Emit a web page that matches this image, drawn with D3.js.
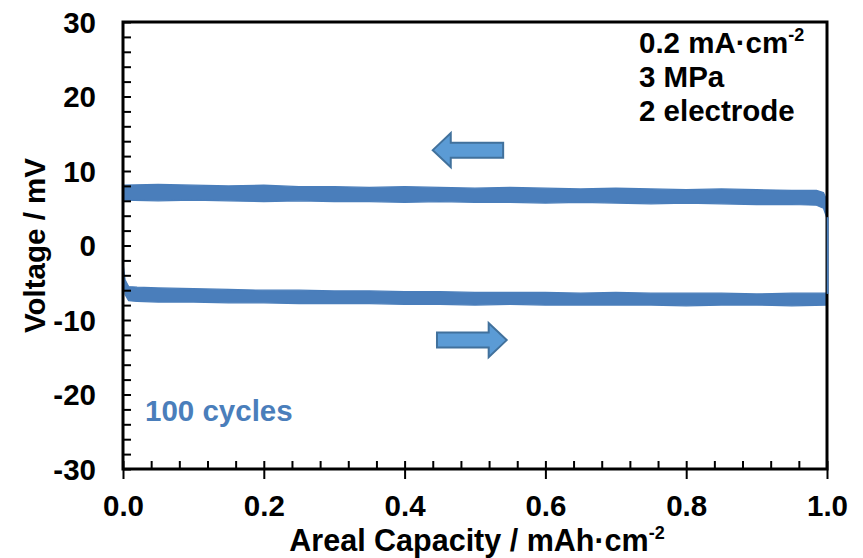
<!DOCTYPE html>
<html>
<head>
<meta charset="utf-8">
<script src="https://cdn.jsdelivr.net/npm/d3@7"></script>
<style>
  body { margin: 0; background: #fff; }
  svg text { font-family: "Liberation Sans", Arial, sans-serif; font-weight: bold; }
</style>
</head>
<body>
<svg id="chart"></svg>
<script>
"use strict";

var Width = 863,
    Height = 558,
    margin = { top: 22, right: 36, bottom: 89, left: 123 };

// capacity positions (mAh/cm2) where the band edges were read
var capX = [0.00, 0.05, 0.10, 0.15, 0.20, 0.25, 0.30, 0.35, 0.40, 0.45, 0.50,
            0.55, 0.60, 0.65, 0.70, 0.75, 0.80, 0.85, 0.90, 0.95, 0.985, 0.995, 1.00];

// upper band (charge), top and bottom edge, mV
var chargeTop = [8.1, 8.2, 8.1, 8.0, 8.1, 7.9, 7.9, 7.8, 7.9, 7.8, 7.7,
                 7.8, 7.7, 7.6, 7.7, 7.6, 7.5, 7.6, 7.5, 7.4, 7.4, 7.1, 6.0];
var chargeBottom = [6.1, 6.0, 6.1, 6.0, 5.9, 6.0, 5.9, 5.9, 5.8, 5.9, 5.8,
                    5.8, 5.7, 5.8, 5.7, 5.6, 5.7, 5.6, 5.5, 5.5, 5.4, 5.0, 3.6];

// lower band (discharge) read at its own positions, start spike included
var disX = [0.000, 0.003, 0.008, 0.02, 0.05, 0.10, 0.15, 0.20, 0.25, 0.30, 0.35, 0.40,
            0.45, 0.50, 0.55, 0.60, 0.65, 0.70, 0.75, 0.80, 0.85, 0.90, 0.95, 1.00];
var disTop = [-2.3, -4.6, -5.5, -5.6, -5.7, -5.8, -5.9, -6.0, -6.0, -6.1, -6.1, -6.2,
              -6.2, -6.3, -6.3, -6.3, -6.4, -6.3, -6.4, -6.4, -6.4, -6.5, -6.4, -6.4];
var disBottom = [-3.6, -6.6, -7.4, -7.5, -7.6, -7.6, -7.7, -7.7, -7.8, -7.8, -7.8, -7.9,
                 -7.9, -8.0, -7.9, -8.0, -8.0, -8.0, -8.0, -8.1, -8.0, -8.0, -8.1, -8.0];

// end-of-cycle switch at full capacity
var switchX = [1.001, 1.001];
var switchV = [3.8, -6.5];

var xTicks = [0.0, 0.2, 0.4, 0.6, 0.8, 1.0];
var yTicks = [-30, -20, -10, 0, 10, 20, 30];

// direction arrows: [from x, to x, voltage]
var arrowLeft = [0.540, 0.440, 12.8];
var arrowRight = [0.446, 0.545, -12.7];

var infoLines = ["0.2 mA\u00b7cm", "3 MPa", "2 electrode"];

var plotW = Width - margin.left - margin.right,
    plotH = Height - margin.top - margin.bottom,
    blue = "#4a7ebb",
    fs = 29.5;

var x = d3.scaleLinear().domain([0, 1]).range([0, plotW]);
var y = d3.scaleLinear().domain([-30, 30]).range([plotH, 0]);

var svg = d3.select("#chart")
    .attr("width", Width)
    .attr("height", Height);

var g = svg.append("g")
    .attr("transform", "translate(" + margin.left + "," + margin.top + ")");

function band(xs, tops, bottoms) {
    return xs.map(function (d, i) { return { x: d, hi: tops[i], lo: bottoms[i] }; });
}

var area = d3.area()
    .x(function (d) { return x(d.x); })
    .y0(function (d) { return y(d.lo); })
    .y1(function (d) { return y(d.hi); });

[band(capX, chargeTop, chargeBottom), band(disX, disTop, disBottom)].forEach(function (b) {
    g.append("path")
        .datum(b)
        .attr("d", area)
        .attr("fill", blue)
        .attr("stroke", blue)
        .attr("stroke-width", 1.2)
        .attr("stroke-linejoin", "round");
});

// arrows
function arrowPath(a) {
    var x0 = x(a[0]), x1 = x(a[1]), cy = y(a[2]),
        dir = x1 > x0 ? 1 : -1,
        head = 18, body = 7.5, wing = 17,
        xb = x1 - dir * head;
    return "M" + x0 + "," + (cy - body) +
        "L" + xb + "," + (cy - body) +
        "L" + xb + "," + (cy - wing) +
        "L" + x1 + "," + cy +
        "L" + xb + "," + (cy + wing) +
        "L" + xb + "," + (cy + body) +
        "L" + x0 + "," + (cy + body) + "Z";
}

g.selectAll(".arrow")
    .data([arrowLeft, arrowRight])
    .enter()
    .append("path")
    .attr("class", "arrow")
    .attr("d", arrowPath)
    .attr("fill", "#5b9bd5")
    .attr("stroke", "#41719c")
    .attr("stroke-width", 2);

// frame
g.append("rect")
    .attr("width", plotW)
    .attr("height", plotH)
    .attr("fill", "none")
    .attr("stroke", "#000")
    .attr("stroke-width", 3);

// the vertical switch line sits on top of the right frame
g.append("path")
    .datum(switchX.map(function (d, i) { return [d, switchV[i]]; }))
    .attr("d", d3.line().x(function (d) { return x(d[0]); }).y(function (d) { return y(d[1]); }))
    .attr("stroke", blue)
    .attr("stroke-width", 2)
    .attr("fill", "none");

// y axis: ticks inward every 2 mV
var yAxis = g.append("g")
    .call(d3.axisRight(y)
        .tickValues(d3.range(-30, 31, 2))
        .tickSize(8)
        .tickFormat(""));
yAxis.select(".domain").remove();
yAxis.selectAll("line").attr("stroke", "#000").attr("stroke-width", 2);

g.append("g")
    .selectAll("text")
    .data(yTicks)
    .enter()
    .append("text")
    .attr("x", -27)
    .attr("y", function (d) { return y(d); })
    .attr("dy", "0.36em")
    .attr("text-anchor", "end")
    .attr("font-size", fs)
    .text(function (d) { return d; });

// x axis: minor ticks inward, majors cross the axis
var xMinor = g.append("g")
    .attr("transform", "translate(0," + plotH + ")")
    .call(d3.axisTop(x)
        .tickValues(d3.range(0, 1.001, 0.04))
        .tickSize(8)
        .tickFormat(""));
xMinor.select(".domain").remove();
xMinor.selectAll("line").attr("stroke", "#000").attr("stroke-width", 2);

var xMajor = g.append("g")
    .attr("transform", "translate(0," + plotH + ")")
    .call(d3.axisBottom(x)
        .tickValues(xTicks)
        .tickSize(10)
        .tickPadding(16)
        .tickFormat(d3.format(".1f")));
xMajor.select(".domain").remove();
xMajor.selectAll("line").attr("stroke", "#000").attr("stroke-width", 2);
xMajor.selectAll("text")
    .attr("font-size", fs)
    .attr("fill", "#000")
    .attr("font-family", "Liberation Sans, Arial, sans-serif");

// axis titles
var xTitle = svg.append("text")
    .attr("x", margin.left + plotW / 2 + 2)
    .attr("y", 551)
    .attr("text-anchor", "middle")
    .attr("font-size", 30.5);
xTitle.append("tspan").text("Areal Capacity / mAh\u00b7cm");
xTitle.append("tspan").attr("font-size", 18).attr("dy", -12).text("-2");

svg.append("text")
    .attr("transform", "translate(45," + (margin.top + plotH / 2) + ") rotate(-90)")
    .attr("text-anchor", "middle")
    .attr("font-size", fs)
    .text("Voltage / mV");

// condition notes
var info = svg.append("g");
info.selectAll("text")
    .data(infoLines)
    .enter()
    .append("text")
    .attr("x", 639)
    .attr("y", function (d, i) { return 53 + i * 34; })
    .attr("font-size", fs)
    .text(function (d) { return d; })
    .filter(function (d, i) { return i === 0; })
    .append("tspan")
    .attr("font-size", 18)
    .attr("dy", -12)
    .text("-2");

svg.append("text")
    .attr("x", 145)
    .attr("y", 421)
    .attr("font-size", fs)
    .attr("fill", blue)
    .text("100 cycles");
</script>
</body>
</html>
